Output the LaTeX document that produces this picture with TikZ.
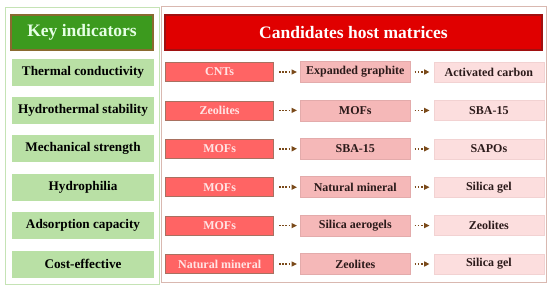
\documentclass[tikz,border=0pt]{standalone}
\usepackage{fontspec}
\setmainfont{Liberation Serif}
\usepackage{tikz}
\usetikzlibrary{arrows.meta, positioning, fit, backgrounds}

\definecolor{keygreen}{HTML}{3C9A1E}
\definecolor{keyborder}{HTML}{8A6A30}
\definecolor{rowgreen}{HTML}{B9E0A5}
\definecolor{outgreen}{HTML}{C5E3B5}
\definecolor{headred}{HTML}{E00000}
\definecolor{headredborder}{HTML}{A01010}
\definecolor{hostA}{HTML}{FF6464}
\definecolor{hostAborder}{HTML}{A87060}
\definecolor{hostAtext}{HTML}{FFE4E4}
\definecolor{hostB}{HTML}{F5B8B8}
\definecolor{hostBborder}{HTML}{E3ABAB}
\definecolor{hostC}{HTML}{FCDEDE}
\definecolor{hostCborder}{HTML}{F2D2D2}
\definecolor{textdark}{HTML}{2B1A1A}
\definecolor{arrowbrown}{HTML}{7A4A1A}
\definecolor{outpink}{HTML}{D9B8B0}

\begin{document}
\begin{tikzpicture}[
    x=1pt, y=-1pt,
    >={Triangle[length=5.5pt, width=5pt]},
    header/.style={
        rectangle, draw=#1, line width=1.2pt,
        minimum height=35pt, inner sep=0pt,
        font=\fontsize{17.5}{20}\selectfont\bfseries
    },
    indicator/.style={
        rectangle, fill=rowgreen, minimum width=142pt, minimum height=27pt,
        inner sep=0pt, text=black, font=\fontsize{13.2}{15}\selectfont\bfseries
    },
    hostfirst/.style={
        rectangle, fill=hostA, draw=hostAborder, line width=0.8pt,
        minimum width=108pt, minimum height=19pt, inner sep=0pt,
        text=hostAtext, font=\fontsize{12}{14}\selectfont\bfseries
    },
    hostsecond/.style={
        rectangle, fill=hostB, draw=hostBborder, line width=0.6pt,
        minimum width=110pt, minimum height=21pt, inner sep=0pt,
        text=textdark, font=\fontsize{12}{14}\selectfont\bfseries
    },
    hostthird/.style={
        rectangle, fill=hostC, draw=hostCborder, line width=0.6pt,
        minimum width=110pt, minimum height=20pt, inner sep=0pt,
        text=textdark, font=\fontsize{12}{14}\selectfont\bfseries
    },
    arrow/.style={
        ->, arrowbrown, line width=1.5pt, dash pattern=on 1.5pt off 1.7pt
    },
    groupbox/.style={
        rectangle, draw=#1, line width=1pt, inner sep=0pt
    }
]
\useasboundingbox (0,0) rectangle (550,289);

% ── Headers ──
\node[header=keyborder, fill=keygreen, text=white!90!green, minimum width=142pt] (keyhead) at (82,32.5) {Key indicators};
\node[header=headredborder, fill=headred, text=white, minimum width=377pt] (hosthead) at (353.5,32.5) {Candidates host matrices};

% ── Key indicators ──
\node[indicator] (thermal) at (83,72) {Thermal conductivity};
\node[indicator, below=11pt of thermal] (hydrothermal) {Hydrothermal stability};
\node[indicator, below=11pt of hydrothermal] (mechanical) {Mechanical strength};
\node[indicator, below=11pt of mechanical] (hydrophilia) {Hydrophilia};
\node[indicator, below=11pt of hydrophilia] (adsorption) {Adsorption capacity};
\node[indicator, below=11pt of adsorption] (cost) {Cost-effective};

% ── First candidates ──
\node[hostfirst, right=11pt of thermal] (cnt) {CNTs};
\node[hostfirst, right=11pt of hydrothermal] (zeoA) {Zeolites};
\node[hostfirst, right=11pt of mechanical] (mofA) {MOFs};
\node[hostfirst, right=11pt of hydrophilia] (mofB) {MOFs};
\node[hostfirst, right=11pt of adsorption] (mofC) {MOFs};
\node[hostfirst, right=11pt of cost] (natA) {Natural mineral};

% ── Second candidates ──
\node[hostsecond, right=26pt of cnt] (graphite) {Expanded graphite};
\node[hostsecond, right=26pt of zeoA] (mofD) {MOFs};
\node[hostsecond, right=26pt of mofA] (sbaA) {SBA-15};
\node[hostsecond, right=26pt of mofB] (natB) {Natural mineral};
\node[hostsecond, right=26pt of mofC] (aerogel) {Silica aerogels};
\node[hostsecond, right=26pt of natA] (zeoB) {Zeolites};

% ── Third candidates ──
\node[hostthird, right=23pt of graphite] (carbon) {Activated carbon};
\node[hostthird, right=23pt of mofD] (sbaB) {SBA-15};
\node[hostthird, right=23pt of sbaA] (sapo) {SAPOs};
\node[hostthird, right=23pt of natB] (gelA) {Silica gel};
\node[hostthird, right=23pt of aerogel] (zeoC) {Zeolites};
\node[hostthird, right=23pt of zeoB] (gelB) {Silica gel};

% ── Group boxes ──
\begin{scope}[on background layer]
    \node[groupbox=outgreen, fit=(keyhead)(thermal)(cost), inner xsep=5pt, inner ysep=7pt] (keybox) {};
    \node[groupbox=outpink, fit=(hosthead)(natA)(gelB), inner xsep=2.5pt, inner ysep=8pt] (hostbox) {};
\end{scope}

% ── Arrows ──
\draw[arrow, shorten <=5pt, shorten >=3pt] (cnt) -- (graphite);
\draw[arrow, shorten <=5pt, shorten >=3pt] (zeoA) -- (mofD);
\draw[arrow, shorten <=5pt, shorten >=3pt] (mofA) -- (sbaA);
\draw[arrow, shorten <=5pt, shorten >=3pt] (mofB) -- (natB);
\draw[arrow, shorten <=5pt, shorten >=3pt] (mofC) -- (aerogel);
\draw[arrow, shorten <=5pt, shorten >=3pt] (natA) -- (zeoB);

\draw[arrow, shorten <=4pt, shorten >=4pt] (graphite) -- (carbon);
\draw[arrow, shorten <=4pt, shorten >=4pt] (mofD) -- (sbaB);
\draw[arrow, shorten <=4pt, shorten >=4pt] (sbaA) -- (sapo);
\draw[arrow, shorten <=4pt, shorten >=4pt] (natB) -- (gelA);
\draw[arrow, shorten <=4pt, shorten >=4pt] (aerogel) -- (zeoC);
\draw[arrow, shorten <=4pt, shorten >=4pt] (zeoB) -- (gelB);

\end{tikzpicture}
\end{document}
